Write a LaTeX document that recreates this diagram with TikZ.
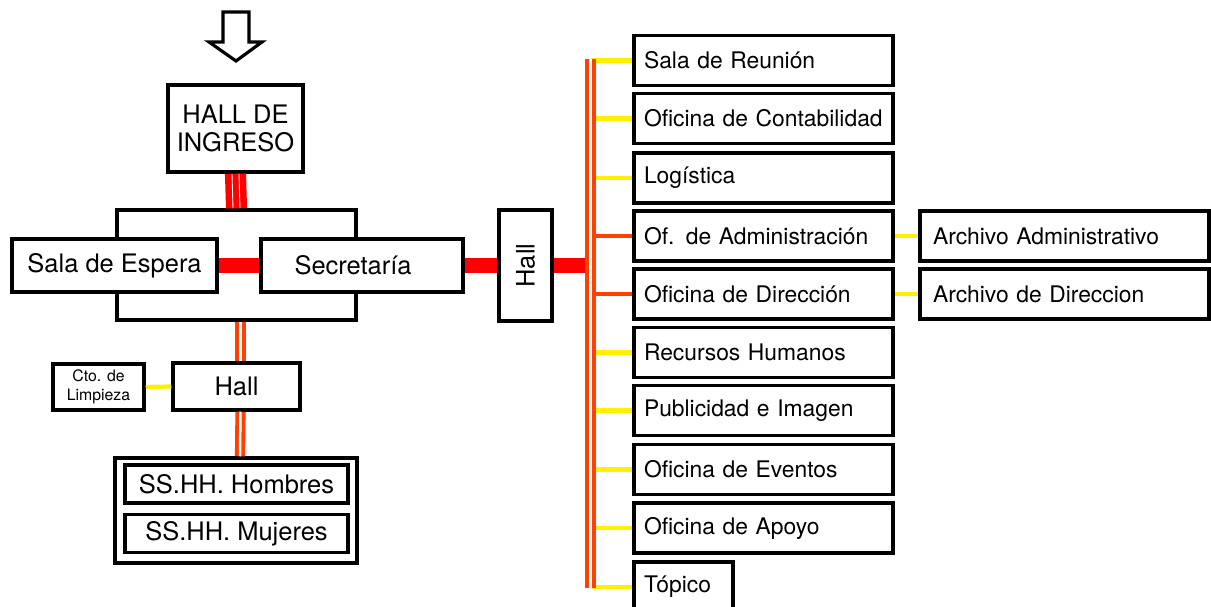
\documentclass[tikz,border=0pt]{standalone}
\usepackage{fontspec}
\setmainfont{TeX Gyre Heros}
\usepackage{xcolor}
\usepackage{tikz}

\definecolor{linkred}{HTML}{FF0000}
\definecolor{busorange}{HTML}{FF4000}
\definecolor{linkyellow}{HTML}{FFF000}

\newcommand{\bigtext}{\fontsize{14.5}{16}\selectfont}
\newcommand{\midtext}{\fontsize{13}{15}\selectfont}
\newcommand{\tinytext}{\fontsize{9}{11}\selectfont}

\tikzset{
  room/.style={draw, line width=2pt, fill=white, inner sep=0pt},
  office/.style={room, font=\midtext, minimum width=5.18cm, minimum height=1cm, text width=4.78cm, align=left},
  archive/.style={room, font=\midtext, minimum width=5.78cm, minimum height=1cm, text width=5.26cm, align=left},
  redlink/.style={linkred, line width=9pt},
  orangelink/.style={busorange, line width=2.2pt, double=white, double distance=1.4pt},
  yellowlink/.style={linkyellow, line width=2.4pt},
  branch/.style={busorange, line width=2pt}
}

\begin{document}
\begin{tikzpicture}[x=0.02cm, y=-0.02cm]
  \useasboundingbox (0,0) rectangle (1211,607);
  % entrance arrow
  \draw[line width=1.8pt, line join=miter] (223,12) -- (249,12) -- (249,42) -- (262,42) -- (236,61)
    -- (209,42) -- (223,42) -- cycle;

  % left wing
  \node[room, font=\bigtext, minimum width=2.7cm, minimum height=1.74cm, align=center] (ingreso) at (235.5,128.5) {HALL DE\\INGRESO};
  \node[room, minimum width=4.78cm, minimum height=2.2cm] (espera) at (236.5,265) {};
  \node[room, font=\bigtext, minimum width=4.1cm, minimum height=1.06cm] (sala) at (114.5,265.5) {Sala de Espera};
  \node[room, font=\bigtext, minimum width=4.04cm, minimum height=1.06cm, text width=3.5cm, align=left] (secretaria) at (362,265.5) {\hspace*{0.4cm}Secretaría};
  \node[room, font=\bigtext, minimum width=1.06cm, minimum height=2.22cm] (hallmain) at (525.5,265.5) {\rotatebox{90}{Hall}};
  \node[room, font=\bigtext, minimum width=2.54cm, minimum height=0.94cm] (hallss) at (236.5,386.5) {Hall};
  \node[room, font=\tinytext, minimum width=1.82cm, minimum height=0.92cm, align=center] (limpieza) at (98.5,387) {Cto. de\\Limpieza};
  \node[room, minimum width=4.84cm, minimum height=2.1cm] (sshh) at (236,510.5) {};
  \node[room, font=\bigtext, minimum width=4.46cm, minimum height=0.76cm] (hombres) at (236.5,484) {SS.HH. Hombres};
  \node[room, font=\bigtext, minimum width=4.46cm, minimum height=0.76cm] (mujeres) at (236.5,533.5) {SS.HH. Mujeres};

  % right wing
  \coordinate (bustop) at (590.5,59);
  \coordinate (busbot) at (590.5,588);
  \node[office] (reunion) at (763.5,60.5) {Sala de Reunión};
  \node[office] (contabilidad) at (763.5,118.5) {Oficina de Contabilidad};
  \node[office] (logistica) at (763.5,178) {Logística};
  \node[office] (administracion) at (763.5,236) {Of. de Administración};
  \node[office] (direccion) at (763.5,294) {Oficina de Dirección};
  \node[office] (rrhh) at (763.5,352.5) {Recursos Humanos};
  \node[office] (publicidad) at (763.5,410.5) {Publicidad e Imagen};
  \node[office] (eventos) at (763.5,469.5) {Oficina de Eventos};
  \node[office] (apoyo) at (763.5,528) {Oficina de Apoyo};
  \node[room, font=\midtext, minimum width=1.98cm, minimum height=1cm, text width=1.58cm, align=left] (topico) at (683.5,587) {Tópico};
  \node[archive] (archadm) at (1064.5,236) {Archivo Administrativo};
  \node[archive] (archdir) at (1064.5,294) {Archivo de Direccion};

  % connectors
  \draw[linkred, line width=12pt] (ingreso.south) -- (espera.north);
  \draw[white, line width=0.5pt] ([xshift=-0.07cm]ingreso.south) -- ([xshift=-0.07cm]espera.north);
  \draw[white, line width=0.5pt] ([xshift=0.07cm]ingreso.south) -- ([xshift=0.07cm]espera.north);
  \draw[redlink] (sala.east) -- (secretaria.west);
  \draw[redlink] (secretaria.east) -- (hallmain.west);
  \draw[redlink] (hallmain.east) -- (hallmain.east -| bustop);
  \draw[orangelink] ([xshift=0.08cm]espera.south) -- ([xshift=0.08cm]hallss.north);
  \draw[orangelink] ([xshift=0.08cm]hallss.south) -- ([xshift=0.08cm]sshh.north);
  \draw[yellowlink] (limpieza.east) -- (hallss.west);

  \draw[yellowlink] (reunion.west -| bustop) -- (reunion.west);
  \draw[yellowlink] (contabilidad.west -| bustop) -- (contabilidad.west);
  \draw[yellowlink] (logistica.west -| bustop) -- (logistica.west);
  \draw[branch] (administracion.west -| bustop) -- (administracion.west);
  \draw[branch] (direccion.west -| bustop) -- (direccion.west);
  \draw[yellowlink] (rrhh.west -| bustop) -- (rrhh.west);
  \draw[yellowlink] (publicidad.west -| bustop) -- (publicidad.west);
  \draw[yellowlink] (eventos.west -| bustop) -- (eventos.west);
  \draw[yellowlink] (apoyo.west -| bustop) -- (apoyo.west);
  \draw[yellowlink] (topico.west -| bustop) -- (topico.west);
  \draw[yellowlink] (administracion.east) -- (archadm.west);
  \draw[yellowlink] (direccion.east) -- (archdir.west);

  % main corridor
  \draw[orangelink] (bustop) -- (busbot);
\end{tikzpicture}
\end{document}
